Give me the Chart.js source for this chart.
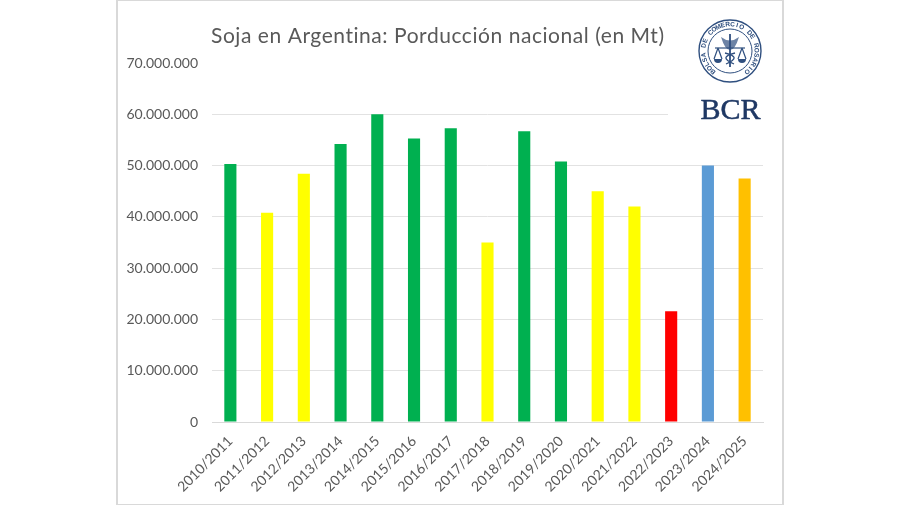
<!DOCTYPE html>
<html>
<head>
<meta charset="utf-8">
<title>Soja en Argentina</title>
<script src="https://cdn.jsdelivr.net/npm/chart.js@4"></script>
<style>
    html, body { margin: 0; padding: 0; background: #fff; }
    #wrap { position: relative; width: 900px; height: 505px; overflow: hidden; }
    #frame { position: absolute; left: 116px; top: -1px; width: 664px; height: 503px; border: 2px solid #d9d9d9; pointer-events: none; }
</style>
</head>
<body>
<div id="wrap">
    <canvas id="chart" width="900" height="505"></canvas>
    <div id="frame"></div>
</div>
<script>
// Chart data
const campaigns = ['2010/2011', '2011/2012', '2012/2013', '2013/2014', '2014/2015', '2015/2016', '2016/2017', '2017/2018', '2018/2019', '2019/2020', '2020/2021', '2021/2022', '2022/2023', '2023/2024', '2024/2025'];
const production = [50300000, 40800000, 48400000, 54200000, 60000000, 55300000, 57300000, 35000000, 56700000, 50800000, 45000000, 42000000, 21600000, 50000000, 47500000];
const barColors = ['#00b050', '#ffff00', '#ffff00', '#00b050', '#00b050', '#00b050', '#00b050', '#ffff00', '#00b050', '#00b050', '#ffff00', '#ffff00', '#ff0000', '#5b9bd5', '#ffc000'];
const yTicks = [0, 10000000, 20000000, 30000000, 40000000, 50000000, 60000000, 70000000];
const chartTitle = 'Soja en Argentina: Porducción nacional (en Mt)';

function formatThousands(value) {
    return String(value).replace(/\B(?=(\d{3})+(?!\d))/g, '.');
}

// Write text around a circle, used for the seal
function drawCircleText(ctx, text, cx, cy, radius, startAngle, endAngle) {
    const step = (endAngle - startAngle) / (text.length - 1);
    for (let i = 0; i < text.length; i++) {
        const angle = startAngle + step * i;
        ctx.save();
        ctx.translate(cx + Math.cos(angle) * radius, cy + Math.sin(angle) * radius);
        ctx.rotate(angle + Math.PI / 2);
        ctx.fillText(text[i], 0, 0);
        ctx.restore();
    }
}

// Title and BCR logo
const decorations = {
    id: 'decorations',
    afterDraw(chart) {
        const ctx = chart.ctx;
        ctx.save();

        ctx.fillStyle = '#595959';
        ctx.font = '21px Lato';
        ctx.letterSpacing = '0.55px';
        ctx.textAlign = 'left';
        ctx.textBaseline = 'alphabetic';
        ctx.fillText(chartTitle, 211, 43);
        ctx.letterSpacing = '0px';

        // white box behind the logo hides the top gridline
        ctx.fillStyle = '#fff';
        ctx.fillRect(668, 5, 112, 125);

        const cx = 730, cy = 51;
        const navy = '#2f4f7f';
        ctx.filter = 'blur(0.4px)';
        ctx.strokeStyle = navy;
        ctx.lineWidth = 1.4;
        ctx.beginPath(); ctx.arc(cx, cy, 31, 0, Math.PI * 2); ctx.stroke();
        ctx.lineWidth = 1;
        ctx.beginPath(); ctx.arc(cx, cy, 22, 0, Math.PI * 2); ctx.stroke();

        ctx.fillStyle = navy;
        ctx.font = 'bold 6.5px "Liberation Sans"';
        ctx.textAlign = 'center';
        ctx.textBaseline = 'middle';
        drawCircleText(ctx, 'BOLSA DE COMERCIO DE ROSARIO', cx, cy, 26.5, Math.PI * 0.72, Math.PI * 2.28);

        // scales and staff in the middle of the seal
        ctx.strokeStyle = navy;
        ctx.lineWidth = 1.8;
        ctx.beginPath(); ctx.moveTo(cx, cy - 17); ctx.lineTo(cx, cy + 16); ctx.stroke();
        ctx.lineWidth = 1.2;
        ctx.beginPath(); ctx.moveTo(cx - 15, cy - 3); ctx.lineTo(cx + 15, cy - 3); ctx.stroke();
        [-12, 12].forEach(dx => {
            ctx.beginPath();
            ctx.moveTo(cx + dx, cy - 3);
            ctx.lineTo(cx + dx - 4, cy + 8);
            ctx.moveTo(cx + dx, cy - 3);
            ctx.lineTo(cx + dx + 4, cy + 8);
            ctx.stroke();
            ctx.beginPath();
            ctx.arc(cx + dx, cy + 8, 4, 0, Math.PI);
            ctx.fill();
        });
        ctx.beginPath();
        ctx.moveTo(cx - 9, cy - 14);
        ctx.quadraticCurveTo(cx, cy - 7, cx + 9, cy - 14);
        ctx.quadraticCurveTo(cx + 5, cy - 1, cx, cy - 1);
        ctx.quadraticCurveTo(cx - 5, cy - 1, cx - 9, cy - 14);
        ctx.globalAlpha = 0.7;
        ctx.fill();
        ctx.globalAlpha = 1;
        ctx.lineWidth = 1.3;
        ctx.beginPath(); ctx.moveTo(cx - 5, cy + 2); ctx.bezierCurveTo(cx + 7, cy + 5, cx + 7, cy + 8, cx - 4, cy + 13); ctx.stroke();
        ctx.beginPath(); ctx.moveTo(cx + 5, cy + 2); ctx.bezierCurveTo(cx - 7, cy + 5, cx - 7, cy + 8, cx + 4, cy + 13); ctx.stroke();
        ctx.filter = 'none';

        ctx.fillStyle = '#1f3864';
        ctx.strokeStyle = '#1f3864';
        ctx.lineWidth = 0.5;
        ctx.font = '30px "Liberation Serif"';
        ctx.textAlign = 'center';
        ctx.textBaseline = 'alphabetic';
        ctx.fillText('BCR', 730.5, 118.5);
        ctx.strokeText('BCR', 730.5, 118.5);

        ctx.restore();
    }
};

new Chart(document.getElementById('chart'), {
    type: 'bar',
    data: {
        labels: campaigns,
        datasets: [{
            data: production,
            backgroundColor: barColors,
            borderWidth: 0,
            categoryPercentage: 1,
            barPercentage: 0.33
        }]
    },
    options: {
        responsive: false,
        animation: false,
        layout: {
            padding: { left: 0, right: 137, top: 63, bottom: 0 }
        },
        plugins: {
            legend: { display: false },
            tooltip: { enabled: false }
        },
        scales: {
            x: {
                afterFit: function(axis) { axis.height = 83; },
                grid: { display: false, drawTicks: false },
                border: { color: '#d9d9d9' },
                ticks: {
                    color: '#595959',
                    font: { family: 'Lato', size: 14 },
                    padding: 11,
                    minRotation: 45,
                    maxRotation: 45,
                    autoSkip: false
                }
            },
            y: {
                min: 0,
                max: 70000000,
                afterFit: function(axis) { axis.width = 212; },
                afterBuildTicks: function(axis) { axis.ticks = yTicks.map(v => ({ value: v })); },
                grid: {
                    color: function(context) { return context.tick.value === 70000000 ? 'transparent' : '#e2e2e2'; },
                    drawTicks: false
                },
                border: { display: false },
                ticks: {
                    color: '#595959',
                    font: { family: 'Lato', size: 14 },
                    padding: 14,
                    callback: function(value) { return formatThousands(value); }
                }
            }
        }
    },
    plugins: [decorations]
});
</script>
</body>
</html>
